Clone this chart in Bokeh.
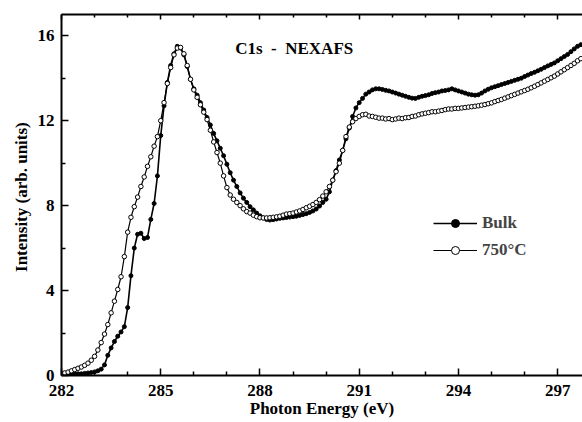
import numpy as np
from bokeh.plotting import figure
from bokeh.models import LinearAxis, FixedTicker, Label, Legend, LegendItem, Range1d
from bokeh.embed import file_html
from bokeh.resources import INLINE

# Photon energy grid (eV), 0.1 eV steps
energy = np.round(np.arange(282.0, 297.75, 0.1), 1)

bulk = [
    0.05, 0.05, 0.06, 0.05, 0.07, 0.08, 0.08, 0.10, 0.12, 0.14,
    0.17, 0.22, 0.30, 0.50, 0.95, 1.30, 1.60, 1.85, 2.05, 2.30,
    3.20, 4.70, 6.00, 6.65, 6.70, 6.45, 6.50, 7.35, 8.10, 9.40,
    11.30, 12.70, 13.80, 14.60, 15.15, 15.50, 15.42, 15.10, 14.55, 13.95,
    13.50, 13.20, 12.85, 12.50, 12.15, 11.80, 11.40, 11.05, 10.70, 10.35,
    9.95, 9.55, 9.20, 8.90, 8.60, 8.35, 8.15, 7.95, 7.80, 7.65,
    7.52, 7.42, 7.35, 7.32, 7.34, 7.37, 7.40, 7.42, 7.44, 7.46,
    7.48, 7.50, 7.54, 7.58, 7.62, 7.68, 7.75, 7.84, 7.98, 8.15,
    8.30, 8.65, 9.20, 9.65, 10.15, 10.60, 11.15, 11.65, 12.20, 12.60,
    12.85, 13.05, 13.25, 13.35, 13.45, 13.50, 13.50, 13.47, 13.43, 13.40,
    13.35, 13.30, 13.25, 13.20, 13.15, 13.10, 13.06, 13.05, 13.10, 13.15,
    13.18, 13.22, 13.28, 13.32, 13.35, 13.40, 13.42, 13.45, 13.50, 13.45,
    13.40, 13.35, 13.30, 13.25, 13.22, 13.20, 13.22, 13.30, 13.40, 13.48,
    13.55, 13.60, 13.65, 13.70, 13.75, 13.80, 13.85, 13.90, 13.95, 14.00,
    14.08, 14.15, 14.22, 14.28, 14.35, 14.42, 14.50, 14.58, 14.65, 14.72,
    14.82, 14.92, 15.02, 15.12, 15.25, 15.38, 15.50, 15.58,
]

annealed_750 = [
    0.08, 0.12, 0.16, 0.22, 0.28, 0.34, 0.40, 0.48, 0.58, 0.72,
    0.90, 1.20, 1.55, 1.95, 2.40, 2.95, 3.50, 4.05, 4.65, 5.60,
    6.75, 7.45, 7.95, 8.40, 8.90, 9.35, 9.85, 10.30, 10.80, 11.25,
    12.00, 12.85, 13.75, 14.50, 15.10, 15.42, 15.45, 15.15, 14.60, 13.95,
    13.45, 13.10, 12.75, 12.40, 12.05, 11.55, 11.00, 10.50, 10.00, 9.40,
    8.85, 8.50, 8.30, 8.15, 8.00, 7.85, 7.72, 7.65, 7.55, 7.48,
    7.43, 7.42, 7.42, 7.43, 7.45, 7.47, 7.50, 7.55, 7.60, 7.62,
    7.65, 7.70, 7.75, 7.82, 7.90, 7.97, 8.05, 8.15, 8.28, 8.45,
    8.65, 8.90, 9.20, 9.60, 10.00, 10.60, 11.25, 11.70, 11.95, 12.10,
    12.20, 12.28, 12.30, 12.22, 12.20, 12.16, 12.12, 12.12, 12.08, 12.10,
    12.05, 12.08, 12.12, 12.10, 12.14, 12.15, 12.20, 12.22, 12.28, 12.32,
    12.35, 12.38, 12.42, 12.42, 12.45, 12.48, 12.52, 12.55, 12.55, 12.58,
    12.58, 12.60, 12.62, 12.64, 12.66, 12.68, 12.70, 12.73, 12.76, 12.80,
    12.84, 12.90, 12.95, 13.00, 13.06, 13.12, 13.18, 13.24, 13.30, 13.36,
    13.42, 13.48, 13.55, 13.62, 13.70, 13.78, 13.86, 13.94, 14.02, 14.10,
    14.20, 14.30, 14.40, 14.50, 14.60, 14.70, 14.82, 14.92,
]

x_major = [282, 285, 288, 291, 294, 297]
x_minor = [283, 284, 286, 287, 289, 290, 292, 293, 295, 296]
y_major = [0, 4, 8, 12, 16]
y_minor = [2, 6, 10, 14]

FONT = "'Liberation Serif', 'Times New Roman', serif"

p = figure(width=582, height=424, output_backend="svg", toolbar_location=None,
           x_range=Range1d(282, 297.75), y_range=Range1d(0, 17),
           min_border_left=61, min_border_right=0, min_border_top=14,
           min_border_bottom=49, x_axis_label="Photon Energy (eV)",
           y_axis_label="Intensity  (arb. units)")
p.outline_line_color = None
p.xgrid.grid_line_color = None
p.ygrid.grid_line_color = None
p.background_fill_color = "white"
p.border_fill_color = "white"

xt = FixedTicker(ticks=x_major, minor_ticks=x_minor)
yt = FixedTicker(ticks=y_major, minor_ticks=y_minor)

def style_axis(ax):
    ax.axis_line_width = 2
    ax.axis_line_color = "black"
    ax.major_tick_in = 7
    ax.major_tick_out = 0
    ax.minor_tick_in = 4
    ax.minor_tick_out = 0
    ax.major_tick_line_width = 1.5
    ax.minor_tick_line_width = 1.5
    ax.major_label_text_font = FONT
    ax.major_label_text_font_style = "bold"
    ax.major_label_text_font_size = "17px"
    ax.major_label_text_color = "black"
    ax.axis_label_text_font = FONT
    ax.axis_label_text_font_style = "bold"
    ax.axis_label_text_font_size = "17px"
    ax.axis_label_text_color = "black"

p.xaxis.ticker = xt
p.yaxis.ticker = yt
style_axis(p.xaxis[0])
style_axis(p.yaxis[0])
p.xaxis.major_label_standoff = 9
p.xaxis.axis_label_standoff = 0
p.yaxis.major_label_standoff = 7
p.yaxis.axis_label_standoff = 4

top = LinearAxis(ticker=xt, major_label_standoff=0,
                 major_label_overrides={t: "" for t in x_major})
style_axis(top)
top.major_tick_in = 5
top.minor_tick_in = 3
p.add_layout(top, "above")

l1 = p.line(energy, bulk, line_color="black", line_width=1.6)
s1 = p.scatter(energy, bulk, size=4, marker="circle", fill_color="black", line_color="black")
l2 = p.line(energy, annealed_750, line_color="black", line_width=1.2)
s2 = p.scatter(energy, annealed_750, size=4.5, marker="circle", fill_color="white",
               line_color="black", line_width=1)

legend = Legend(items=[LegendItem(label="Bulk", renderers=[l1, s1]),
                       LegendItem(label="750\u00b0C", renderers=[l2, s2])],
                location=(372, 115), glyph_width=44, glyph_height=20, label_height=20,
                spacing=7, padding=0, margin=0, label_standoff=5,
                border_line_color=None, background_fill_alpha=0,
                label_text_font=FONT, label_text_font_style="bold",
                label_text_font_size="17px")
p.add_layout(legend, "center")

p.add_layout(Label(x=287.25, y=15.4, text="C1s\u00a0\u00a0-\u00a0\u00a0NEXAFS", text_align="left",
                   text_baseline="middle", text_font=FONT, text_font_style="bold",
                   text_font_size="17px", text_color="black"))

open("out.html", "w").write(file_html(p, INLINE))
